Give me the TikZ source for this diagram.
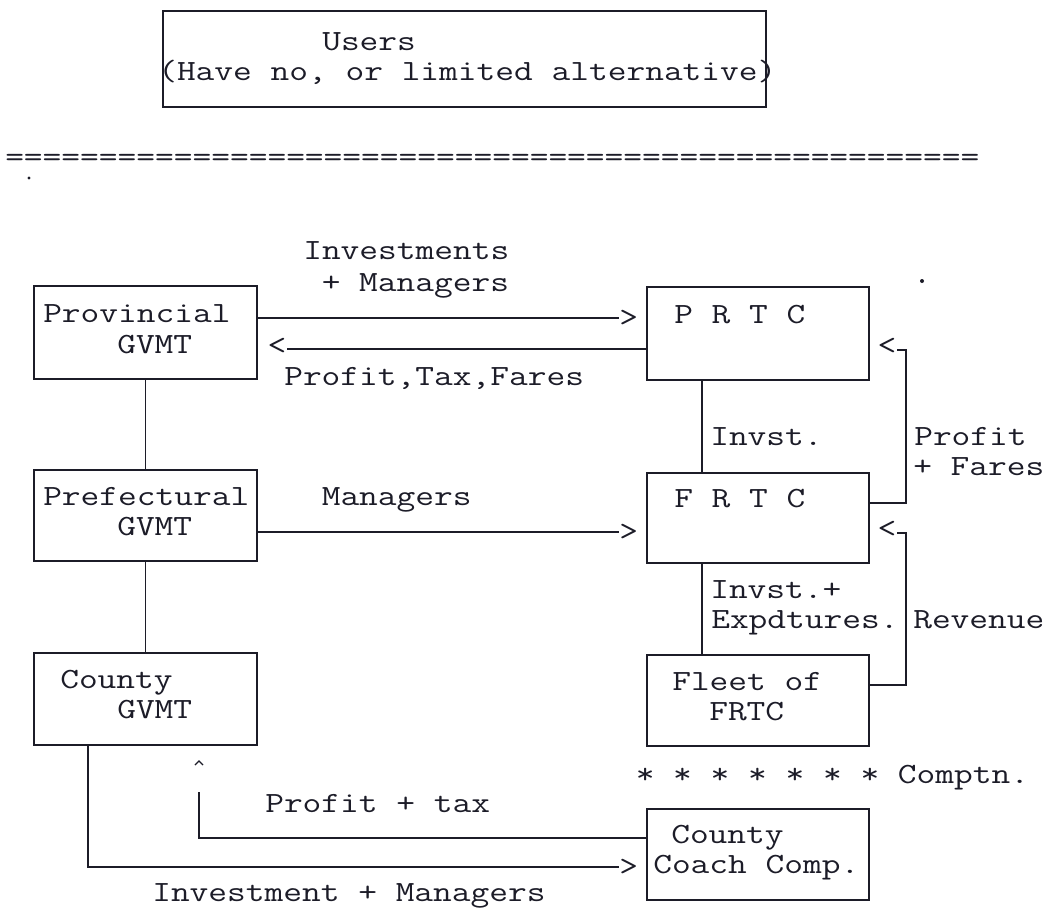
\documentclass[tikz,border=0pt]{standalone}
\usepackage{fontspec}
\newfontfamily\tw{Latin Modern Mono}[FakeStretch=1.24]
\usetikzlibrary{fit}
\definecolor{ink}{RGB}{28,28,40}
\begin{document}
\begin{tikzpicture}[x=0.75pt,y=-0.75pt,
  box/.style={draw=ink, line width=1.4pt, inner sep=0pt, rectangle},
  ln/.style={draw=ink, line width=1.4pt},
  txt/.style={anchor=base west, inner sep=0pt, text=ink, font=\tw\fontsize{22}{27}\selectfont},
  tip/.style={inner sep=0pt, text=ink, font=\tw\fontsize{22}{27}\selectfont}]
\useasboundingbox[fill=white] (0,0) rectangle (1045,908);

% boxes
\node[box, fit={(163,11) (766,107)}] (users) {};
\node[box, fit={(34,286) (257,379)}] (prov) {};
\node[box, fit={(34,470) (257,561)}] (pref) {};
\node[box, fit={(34,653) (257,745)}] (county) {};
\node[box, fit={(647,287) (869,380)}] (prtc) {};
\node[box, fit={(647,473) (869,563)}] (frtc) {};
\node[box, fit={(647,655) (869,746)}] (fleet) {};
\node[box, fit={(647,809) (869,900)}] (coach) {};

% box texts
\node[txt] (tu1) at (322,50) {Users};
\node[txt] (tu2) at (158,80) {(Have no, or limited alternative)};
\node[txt] (tp1) at (43,322) {Provincial};
\node[txt] (tp2) at (117,353) {GVMT};
\node[txt] (tf1) at (43,505) {Prefectural};
\node[txt] (tf2) at (117,535) {GVMT};
\node[txt] (tc1) at (60,688) {County};
\node[txt] (tc2) at (117,718) {GVMT};
\node[txt] (tr1) at (674,323) {P R T C};
\node[txt] (tr2) at (674,507) {F R T C};
\node[txt] (tl1) at (672,690) {Fleet of};
\node[txt] (tl2) at (709,720) {FRTC};
\node[txt] (tk1) at (671,843) {County};
\node[txt] (tk2) at (653,873) {Coach Comp.};

% separator and stray marks
\node[txt] (eq) at (5,166) {====================================================};
\fill[ink] (29,178) circle (1.6);
\fill[ink] (922,281) circle (2);

% labels
\node[txt] (l1) at (303,259) {Investments};
\node[txt] (l2) at (321.5,291) {+ Managers};
\node[txt] (l3) at (284,385) {Profit,Tax,Fares};
\node[txt] (l4) at (321.5,505) {Managers};
\node[txt] (l5) at (710,445) {Invst.};
\node[txt] (l6) at (914,445) {Profit};
\node[txt] (l7) at (913,475) {+ Fares};
\node[txt] (l8) at (710,598) {Invst.+};
\node[txt] (l9) at (711,628) {Expdtures.};
\node[txt] (l10) at (913,628) {Revenue};
\node[txt] (l11) at (635.5,783) {* * * * * * * Comptn.};
\node[txt] (l12) at (265,812) {Profit + tax};
\node[txt] (l13) at (152,901) {Investment + Managers};

% typed arrow heads
\node[tip, anchor=west] (tipA) at (619,318) {>};
\node[tip, anchor=west] (tipB) at (619,532) {>};
\node[tip, anchor=west] (tipC) at (619,867) {>};
\node[tip] (tipR) at (277,346) {<};
\node[tip] (tipP) at (887,346) {<};
\node[tip] (tipV) at (887,529) {<};

% helper coordinates
\coordinate (xl) at (145.5,0);
\coordinate (xr) at (702,0);
\coordinate (r1) at (287,349);
\coordinate (pf1) at (906,503);
\coordinate (pf2) at (897,350);
\coordinate (rv1) at (906,685);
\coordinate (rv2) at (897,533);
\coordinate (ib) at (88,867);
\coordinate (pt1) at (199,838);
\coordinate (pt2) at (199,792);

% vertical links
\draw[ln] (prov.south -| xl) -- (pref.north -| xl);
\draw[ln] (pref.south -| xl) -- (county.north -| xl);
\draw[ln] (prtc.south -| xr) -- (frtc.north -| xr);
\draw[ln] (frtc.south -| xr) -- (fleet.north -| xr);

% horizontal arrows
\draw[ln] (prov.east |- tipA.west) -- (tipA.west);
\draw[ln] (prtc.west |- r1) -- (r1);
\draw[ln] (pref.east |- tipB.west) -- (tipB.west);

% right brackets
\draw[ln] (frtc.east |- pf1) -- (pf1) -- (pf1 |- pf2) -- (pf2);
\draw[ln] (fleet.east |- rv1) -- (rv1) -- (rv1 |- rv2) -- (rv2);

% bottom links
\draw[ln] (county.south -| ib) -- (ib) -- (tipC.west |- ib);
\draw[ln] (coach.west |- pt1) -- (pt1) -- (pt2);
\draw[ln, line width=1pt] (195,765) -- (199,761) -- (203,765);
\end{tikzpicture}
\end{document}
